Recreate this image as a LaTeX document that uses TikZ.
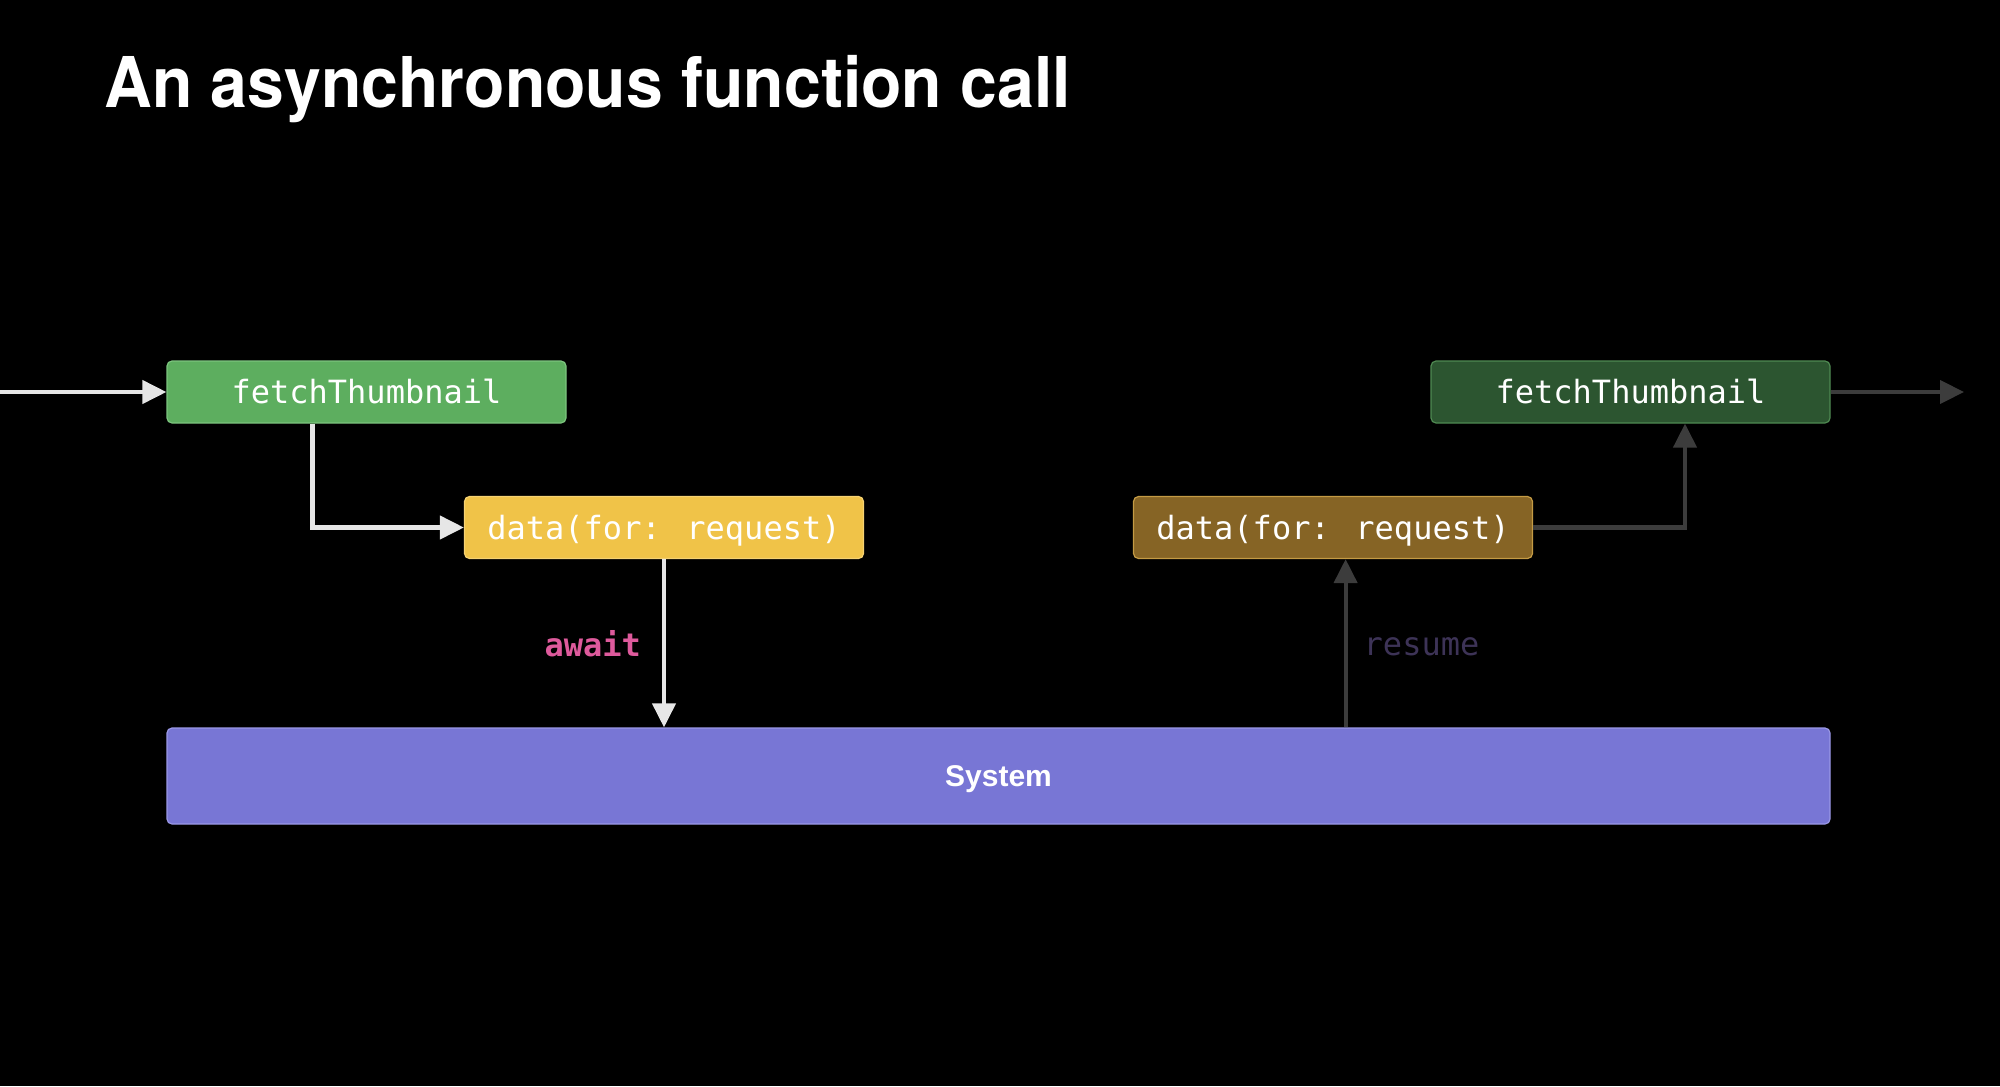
\documentclass[tikz,border=0pt]{standalone}
\usepackage{fontspec}
\setmainfont{Liberation Sans}
\newfontfamily\monofont{DejaVu Sans Mono}
\newfontfamily\titlefont{TeX Gyre Heros}
\usetikzlibrary{arrows.meta}
\definecolor{bgc}{HTML}{000000}
\definecolor{gfill}{HTML}{5DAE5F}
\definecolor{gline}{HTML}{7CC47E}
\definecolor{yfill}{HTML}{F0C348}
\definecolor{yline}{HTML}{F6D272}
\definecolor{bfill}{HTML}{866425}
\definecolor{bline}{HTML}{C49B44}
\definecolor{dgfill}{HTML}{2C5530}
\definecolor{dgline}{HTML}{4F8A52}
\definecolor{sfill}{HTML}{7876D5}
\definecolor{sline}{HTML}{9A98E6}
\definecolor{warrowc}{HTML}{E6E6E6}
\definecolor{darrowc}{HTML}{3C3C3C}
\definecolor{awaitc}{HTML}{DE5A9C}
\definecolor{resumec}{HTML}{3D3357}
\tikzset{
  fbox/.style={rectangle, rounded corners=2.5pt, minimum width=199.5pt,
    minimum height=31pt, inner sep=0pt, line width=0.6pt, text=white,
    text height=11.6pt, text depth=0pt,
    font=\monofont\fontsize{16}{16}\selectfont},
  warrow/.style={draw=warrowc, line width=2.1pt,
    -{Triangle[length=12pt,width=11.5pt]}},
  darrow/.style={draw=darrowc, line width=2.1pt,
    -{Triangle[length=12pt,width=11.5pt]}},
  lbl/.style={inner sep=0pt, font=\monofont\fontsize{16}{16}\selectfont},
}
\begin{document}
\begin{tikzpicture}[x=0.5pt,y=-0.5pt]
\fill[bgc] (0,0) rectangle (2000,1086);
\useasboundingbox (0,0) rectangle (2000,1086);

\node[anchor=base west, inner sep=0pt, text=white,
  font=\titlefont\bfseries\fontsize{35}{35}\selectfont] (title) at (104,107)
  {\scalebox{0.945}[1]{An asynchronous function call}};

\node[fbox, fill=gfill, draw=gline] (f1) at (366.5,392) {fetchThumbnail};
\node[fbox, fill=yfill, draw=yline] (d1) at (664,527.5) {data(for: request)};
\node[fbox, fill=bfill, draw=bline] (d2) at (1333,527.5) {data(for: request)};
\node[fbox, fill=dgfill, draw=dgline] (f2) at (1630.5,392) {fetchThumbnail};
\node[rectangle, rounded corners=2.5pt, fill=sfill, draw=sline, line width=0.6pt,
  minimum width=831.5pt, minimum height=48pt, inner sep=0pt, text=white,
  text height=10.8pt, text depth=0pt,
  font=\bfseries\fontsize{15}{15}\selectfont] (sys) at (998.5,776) {System};

\coordinate (lin) at (0,392);
\coordinate (rout) at (1964,392);

\draw[warrow] (lin) -- (f1.west);
\draw[warrow] ([xshift=-27pt]f1.south) |- (d1.west);
\draw[warrow] (d1.south) -- (d1.south |- sys.north)
  node[midway, anchor=east, xshift=-10.5pt, lbl, text=awaitc] (aw) {\bfseries await};

\draw[darrow] ([xshift=6.3pt]d2.south |- sys.north) -- ([xshift=6.3pt]d2.south)
  node[midway, anchor=west, xshift=8pt, yshift=-2pt, lbl, text=resumec] (rs) {resume};
\draw[darrow] (d2.east) -| ([xshift=27.25pt]f2.south);
\draw[darrow] (f2.east) -- (rout);
\end{tikzpicture}
\end{document}
